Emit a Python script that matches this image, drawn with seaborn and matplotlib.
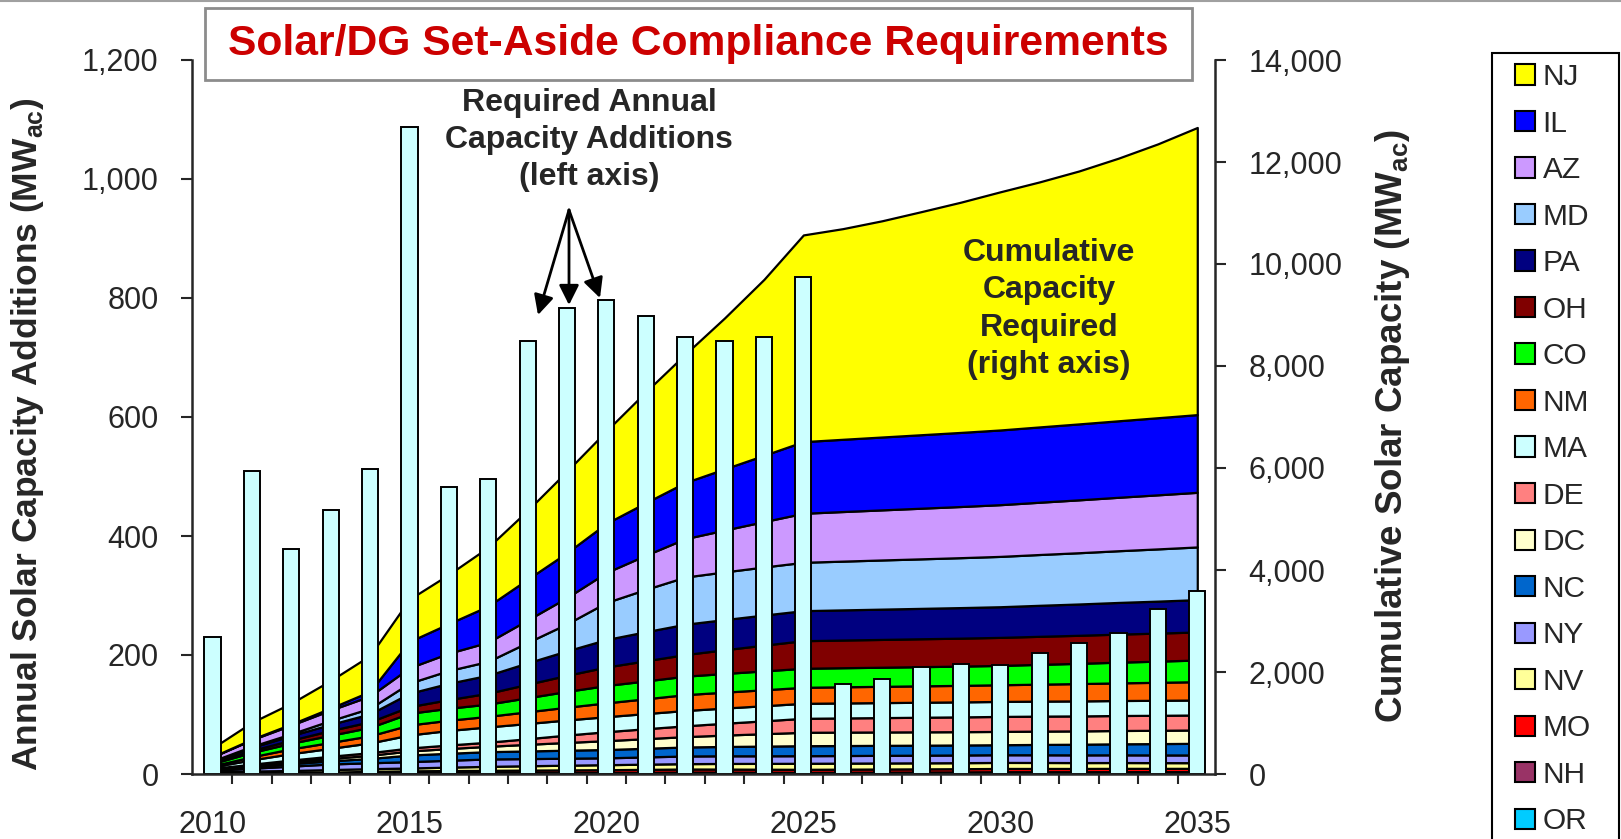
import matplotlib
matplotlib.use("Agg")
import matplotlib.pyplot as plt
import matplotlib.patches as mpatches
from matplotlib.lines import Line2D
from matplotlib.ticker import FuncFormatter
import numpy as np
import pandas as pd
import seaborn as sns

# ---- data (MW-ac) ----
years = list(range(2010, 2036))

# required annual capacity additions (left axis)
annual_adds = [230, 509, 378, 444, 513, 1088, 482, 496, 727, 784, 797, 770, 735,
               727, 735, 836, 151, 160, 180, 185, 184, 203, 221, 237, 277, 308]

# cumulative capacity required by state (right axis)
nj = [170, 330, 410, 540, 705, 830, 965, 1154, 1350, 1600, 1815, 2175, 2517,
      2960, 3450, 4053, 4130, 4240, 4375, 4515, 4670, 4805, 4960, 5150, 5370, 5630]
il = [5, 10, 20, 40, 90, 515, 580, 709, 800, 880, 964, 1030, 1101,
      1200, 1300, 1405, 1417, 1429, 1441, 1453, 1465, 1477, 1489, 1500, 1512, 1524]
az = [80, 130, 170, 205, 240, 300, 340, 376, 440, 515, 588, 670, 752,
      820, 890, 961, 972, 982, 993, 1003, 1014, 1025, 1037, 1048, 1060, 1071]
md = [10, 20, 35, 75, 110, 200, 250, 271, 400, 530, 726, 830, 925,
      935, 942, 948, 956, 964, 971, 979, 987, 996, 1005, 1014, 1024, 1033]
pa = [25, 60, 90, 120, 155, 263, 320, 353, 420, 480, 539, 570, 595,
      592, 590, 589, 591, 594, 596, 599, 601, 608, 614, 621, 627, 634]
oh = [15, 40, 60, 95, 110, 130, 170, 213, 265, 315, 363, 395, 424,
      465, 505, 541, 543, 545, 547, 548, 550, 550, 550, 550, 550, 550]
co = [45, 85, 110, 140, 165, 229, 235, 240, 275, 310, 340, 350, 362,
      366, 370, 373, 374, 375, 376, 378, 379, 388, 397, 406, 415, 425]
nm = [20, 60, 95, 115, 140, 196, 200, 207, 230, 250, 271, 290, 311,
      312, 313, 314, 317, 319, 322, 324, 327, 333, 340, 346, 353, 359]
ma = [30, 85, 125, 155, 190, 255, 285, 300, 298, 296, 294, 297, 300,
      298, 296, 294, 294, 294, 294, 294, 294, 294, 294, 294, 294, 294]
de = [10, 25, 36, 45, 52, 59, 70, 81, 110, 145, 176, 195, 212,
      232, 253, 274, 278, 282, 286, 290, 294, 294, 294, 294, 294, 294]
dc = [5, 20, 34, 45, 62, 79, 92, 105, 130, 152, 174, 188, 203,
      223, 243, 263, 263, 262, 262, 261, 261, 261, 261, 261, 261, 261]
nc = [15, 35, 50, 62, 85, 130, 137, 143, 150, 157, 163, 170, 177,
      183, 190, 196, 196, 196, 196, 196, 196, 203, 209, 216, 222, 229]
ny = [35, 55, 85, 110, 115, 124, 135, 145, 140, 137, 134, 142, 150,
      150, 149, 149, 149, 150, 150, 151, 151, 151, 151, 151, 151, 151]
nv = [35, 42, 45, 50, 53, 56, 67, 78, 85, 92, 98, 102, 105,
      110, 114, 118, 118, 118, 118, 118, 118, 117, 115, 114, 112, 111]
mo = [2, 5, 10, 20, 30, 37, 41, 45, 49, 52, 55, 58, 60,
      60, 59, 59, 60, 61, 62, 63, 64, 64, 64, 65, 65, 65]
nh = [3, 5, 7, 9, 12, 14, 15, 15, 16, 16, 17, 18, 20,
      20, 19, 18, 19, 20, 21, 22, 25, 25, 25, 25, 25, 25]
or_ = [5, 6, 7, 8, 10, 11, 12, 12, 12, 13, 13, 15, 18,
       17, 16, 15, 16, 17, 18, 19, 20, 20, 20, 21, 21, 21]

# legend order (top of stack first)
states = ["NJ", "IL", "AZ", "MD", "PA", "OH", "CO", "NM", "MA",
          "DE", "DC", "NC", "NY", "NV", "MO", "NH", "OR"]
layers = [nj, il, az, md, pa, oh, co, nm, ma, de, dc, nc, ny, nv, mo, nh, or_]
colors = ["#FFFF00", "#0000FF", "#CC99FF", "#99CCFF", "#000080", "#800000",
          "#00FF00", "#FF6600", "#CCFFFF", "#FF8080", "#FFFFCC", "#0066CC",
          "#9999FF", "#FFFF99", "#FF0000", "#993366", "#00CCFF"]
bar_color = "#CCFFFF"

# ---- style ----
sns.set_style("ticks")
plt.rcParams["font.family"] = ["Liberation Sans", "DejaVu Sans"]
plt.rcParams["mathtext.fontset"] = "custom"
plt.rcParams["mathtext.rm"] = "Liberation Sans"
plt.rcParams["mathtext.bf"] = "Liberation Sans:bold"

W, H = 1621, 839
fig = plt.figure(figsize=(W / 100, H / 100), dpi=100)
fig.patch.set_facecolor("white")
ax = fig.add_axes([192 / W, 1 - 774 / H, (1215 - 192) / W, (774 - 60) / H])
ax2 = ax.twinx()

# stacked cumulative area on the right axis (bottom layer first)
df_cum = pd.DataFrame(dict(zip(states, layers)), index=years)
x = np.arange(len(years))
ax2.stackplot(x, *[df_cum[s] for s in states[::-1]], colors=colors[::-1],
              edgecolor="black", linewidth=1.6)

# annual additions bars on the left axis
df_bar = pd.DataFrame({"year": [str(y) for y in years], "adds": annual_adds})
sns.barplot(data=df_bar, x="year", y="adds", color=bar_color, saturation=1,
            width=0.41, edgecolor="black", linewidth=1.4, ax=ax)

ax.set_zorder(2)
ax2.set_zorder(1)
ax.patch.set_visible(False)

ax.set_xlim(-0.52, 25.45)
ax.set_ylim(0, 1200)
ax2.set_ylim(0, 14000)
ax.set_xlabel("")
ax.set_ylabel("")

comma = FuncFormatter(lambda v, p: f"{int(v):,}")
ax.set_yticks(range(0, 1201, 200))
ax.yaxis.set_major_formatter(comma)
ax2.set_yticks(range(0, 14001, 2000))
ax2.yaxis.set_major_formatter(comma)

ax.set_xticks(range(0, 26, 5))
ax.set_xticklabels([str(y) for y in years[::5]])
ax.set_xticks(np.arange(0.5, 25, 1), minor=True)
ax.tick_params(axis="x", which="major", length=0, pad=26, labelsize=22)
ax.tick_params(axis="x", which="minor", length=7, width=1.5, direction="out")
ax.tick_params(axis="y", length=8, width=1.5, pad=16, labelsize=22)
ax2.tick_params(axis="y", length=8, width=1.5, pad=16, labelsize=22)

for s in ["top", "right"]:
    ax.spines[s].set_visible(False)
for s in ["top", "left", "bottom"]:
    ax2.spines[s].set_visible(False)
ax.spines["left"].set_linewidth(1.8)
ax.spines["bottom"].set_linewidth(1.8)
ax2.spines["right"].set_linewidth(1.8)

# axis titles
fig.text(28 / W, 1 - 434 / H, r"Annual Solar Capacity Additions (MW$_{\mathbf{ac}}$)",
         rotation=90, ha="center", va="center", fontsize=25.5, fontweight="bold")
fig.text(1392 / W, 1 - 426 / H, r"Cumulative Solar Capacity (MW$_{\mathbf{ac}}$)",
         rotation=90, ha="center", va="center", fontsize=26.5, fontweight="bold")

# title box
fig.add_artist(mpatches.Rectangle((205 / W, 1 - 80 / H), 987 / W, 72 / H,
                                  transform=fig.transFigure, facecolor="white",
                                  edgecolor="#8C8C8C", lw=2, zorder=5))
fig.text(698 / W, 1 - 44 / H, "Solar/DG Set-Aside Compliance Requirements",
         color="#CC0000", fontsize=30.7, fontweight="bold",
         ha="center", va="center", zorder=6)

# annotations
fig.text(589 / W, 1 - 140 / H, "Required Annual\nCapacity Additions\n(left axis)",
         ha="center", va="center", fontsize=23, fontweight="bold",
         linespacing=1.3, zorder=6)
origin = (569 / W, 1 - 210 / H)
for tx, ty in [(538, 315), (569, 305), (600, 298)]:
    fig.add_artist(mpatches.FancyArrowPatch(origin, (tx / W, 1 - ty / H),
                                            transform=fig.transFigure,
                                            arrowstyle="-|>", mutation_scale=30,
                                            lw=2, color="black",
                                            shrinkA=0, shrinkB=0, zorder=6))
fig.text(1049 / W, 1 - 309 / H, "Cumulative\nCapacity\nRequired\n(right axis)",
         ha="center", va="center", fontsize=23, fontweight="bold",
         linespacing=1.32, zorder=6)

# legend with its own frame (runs off the bottom of the figure)
fig.add_artist(mpatches.Rectangle((1492 / W, -0.1), 127 / W, 1.1 - 53 / H,
                                  transform=fig.transFigure, facecolor="white",
                                  edgecolor="black", lw=1.5, zorder=3))
handles = [mpatches.Patch(facecolor=c, edgecolor="black", lw=1.5) for c in colors]
leg = fig.legend(handles, states, loc="upper left",
                 bbox_to_anchor=(1515 / W, 1 - 63 / H), frameon=False,
                 fontsize=21.5, handlelength=0.67, handleheight=0.67,
                 handletextpad=0.25, labelspacing=0.62, borderpad=0,
                 borderaxespad=0)
leg.set_zorder(4)

# thin grey chart border at the top
fig.add_artist(Line2D([0, 1], [1 - 1 / H, 1 - 1 / H], transform=fig.transFigure,
                      color="#A0A0A0", lw=1.5))

fig.savefig("out.png", dpi=100)
